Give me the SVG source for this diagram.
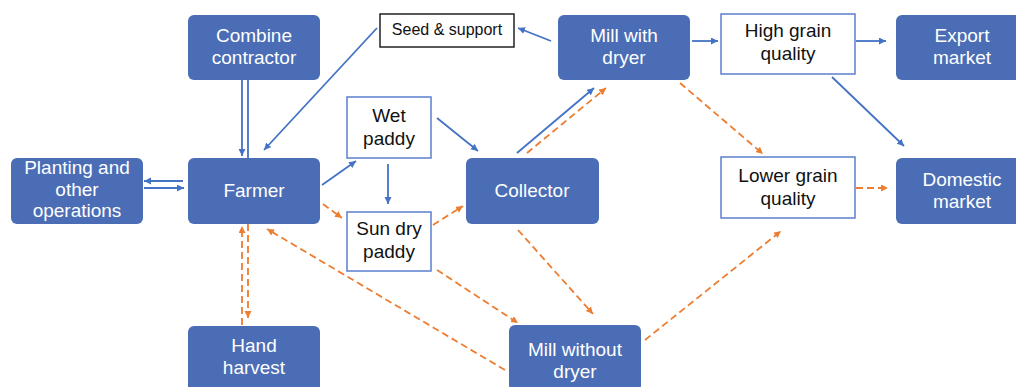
<svg xmlns="http://www.w3.org/2000/svg" width="1016" height="387" viewBox="0 0 1016 387">
<defs>
<style>
.bn{fill:#4A6DB5;}
.wb{fill:#fff;stroke:#5B7FCC;stroke-width:1.5;}
.sb{fill:#fff;stroke:#222;stroke-width:1.5;}
.tw{font-family:"Liberation Sans",Arial,sans-serif;font-size:19px;fill:#fff;text-anchor:middle;}
.tb{font-family:"Liberation Sans",Arial,sans-serif;font-size:19px;fill:#111;text-anchor:middle;}
.ts{font-family:"Liberation Sans",Arial,sans-serif;font-size:16px;fill:#111;text-anchor:middle;}
.bl{stroke:#4472C4;stroke-width:1.8;fill:none;}
.or{stroke:#ED7D31;stroke-width:1.8;fill:none;stroke-dasharray:7,4;}
</style>
<marker id="ab" markerUnits="userSpaceOnUse" markerWidth="10" markerHeight="10" refX="7" refY="3.5" orient="auto"><path d="M0,0 L7,3.5 L0,7 Z" fill="#4472C4"/></marker>
<marker id="ao" markerUnits="userSpaceOnUse" markerWidth="10" markerHeight="10" refX="7" refY="3.5" orient="auto"><path d="M0,0 L7,3.5 L0,7 Z" fill="#ED7D31"/></marker>
</defs>
<rect width="1016" height="387" fill="#fff"/>

<g id="connectors">
<line class="bl" x1="242" y1="80" x2="242" y2="156" marker-end="url(#ab)"/>
<line class="bl" x1="248" y1="80" x2="248" y2="158"/>
<line class="bl" x1="377" y1="28" x2="264" y2="150" marker-end="url(#ab)"/>
<line class="bl" x1="551" y1="41" x2="518" y2="28" marker-end="url(#ab)"/>
<line class="bl" x1="692" y1="41" x2="718" y2="41" marker-end="url(#ab)"/>
<line class="bl" x1="856" y1="41" x2="886" y2="41" marker-end="url(#ab)"/>
<line class="bl" x1="832" y1="77" x2="904" y2="146" marker-end="url(#ab)"/>
<line class="or" x1="680" y1="83" x2="763" y2="154" marker-end="url(#ao)"/>
<line class="or" x1="856" y1="188" x2="888" y2="188" marker-end="url(#ao)"/>
<line class="or" x1="645" y1="340" x2="781" y2="231" marker-end="url(#ao)"/>
<line class="bl" x1="183" y1="181" x2="144" y2="181" marker-end="url(#ab)"/>
<line class="bl" x1="144" y1="188" x2="184" y2="188" marker-end="url(#ab)"/>
<line class="bl" x1="322" y1="185" x2="356" y2="161" marker-end="url(#ab)"/>
<line class="or" x1="323" y1="204" x2="342" y2="218" marker-end="url(#ao)"/>
<line class="bl" x1="388" y1="164" x2="388" y2="204" marker-end="url(#ab)"/>
<line class="bl" x1="437" y1="118" x2="478" y2="151" marker-end="url(#ab)"/>
<line class="or" x1="433" y1="225" x2="463" y2="206" marker-end="url(#ao)"/>
<line class="bl" x1="517" y1="153" x2="594" y2="88" marker-end="url(#ab)"/>
<line class="or" x1="527" y1="153" x2="606" y2="88" marker-end="url(#ao)"/>
<line class="or" x1="518" y1="230" x2="593" y2="314" marker-end="url(#ao)"/>
<line class="or" x1="437" y1="270" x2="518" y2="323" marker-end="url(#ao)"/>
<line class="or" x1="505" y1="370" x2="267" y2="229" marker-end="url(#ao)"/>
<line class="or" x1="242" y1="325" x2="242" y2="226" marker-end="url(#ao)"/>
<line class="or" x1="248" y1="224" x2="248" y2="318" marker-end="url(#ao)"/>
</g>

<g id="combine"><rect class="bn" x="188" y="15" width="132" height="65" rx="6"/><text class="tw" x="254" y="42">Combine</text><text class="tw" x="254" y="64">contractor</text></g>
<g id="farmer"><rect class="bn" x="188" y="158" width="132" height="66" rx="6"/><text class="tw" x="254" y="197">Farmer</text></g>
<g id="planting"><rect class="bn" x="11" y="158" width="132" height="66" rx="6"/><text class="tw" x="77" y="174">Planting and</text><text class="tw" x="77" y="196">other</text><text class="tw" x="77" y="217">operations</text></g>
<g id="seed"><rect class="sb" x="380" y="14" width="134" height="33"/><text class="ts" x="447" y="35">Seed &amp; support</text></g>
<g id="millDryer"><rect class="bn" x="558" y="15" width="132" height="65" rx="6"/><text class="tw" x="624" y="42">Mill with</text><text class="tw" x="624" y="64">dryer</text></g>
<g id="highGrain"><rect class="wb" x="721" y="14" width="134" height="60"/><text class="tb" x="788" y="37">High grain</text><text class="tb" x="788" y="60">quality</text></g>
<g id="export"><rect class="bn" x="896" y="15" width="132" height="65" rx="6"/><text class="tw" x="962" y="42">Export</text><text class="tw" x="962" y="64">market</text></g>
<g id="wetPaddy"><rect class="wb" x="347" y="97" width="84" height="61"/><text class="tb" x="389" y="122">Wet</text><text class="tb" x="389" y="145">paddy</text></g>
<g id="sunDry"><rect class="wb" x="347" y="212" width="84" height="59"/><text class="tb" x="389" y="235">Sun dry</text><text class="tb" x="389" y="258">paddy</text></g>
<g id="collector"><rect class="bn" x="466" y="158" width="133" height="66" rx="6"/><text class="tw" x="532" y="197">Collector</text></g>
<g id="lowerGrain"><rect class="wb" x="721" y="157" width="134" height="61"/><text class="tb" x="788" y="182">Lower grain</text><text class="tb" x="788" y="205">quality</text></g>
<g id="domestic"><rect class="bn" x="896" y="158" width="132" height="66" rx="6"/><text class="tw" x="962" y="186">Domestic</text><text class="tw" x="962" y="208">market</text></g>
<g id="handHarvest"><rect class="bn" x="188" y="326" width="132" height="66" rx="6"/><text class="tw" x="254" y="352">Hand</text><text class="tw" x="254" y="374">harvest</text></g>
<g id="millNoDryer"><rect class="bn" x="509" y="325" width="132" height="66" rx="6"/><text class="tw" x="575" y="356">Mill without</text><text class="tw" x="575" y="378">dryer</text></g>
</svg>
